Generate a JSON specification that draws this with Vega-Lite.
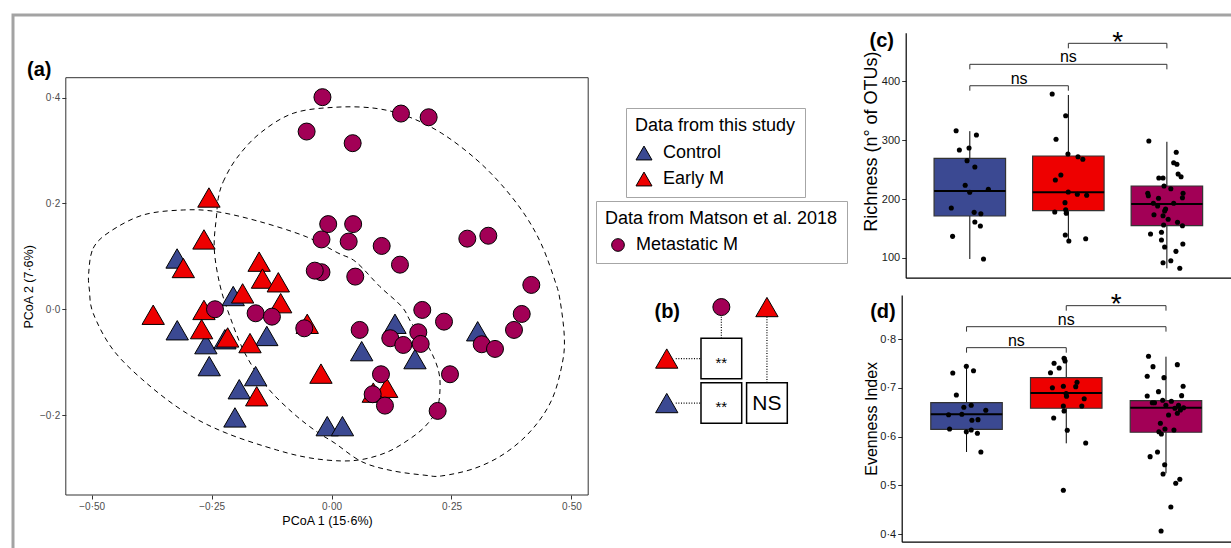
{
"$schema": "https://vega.github.io/schema/vega-lite/v6.json",
"width": 1230,
"height": 545,
"autosize": {"type": "none"},
"padding": {"left": 13, "top": 15, "right": -12, "bottom": -12},
"config": {"font": "Liberation Sans", "view": {"stroke": "#a3a3a3", "strokeWidth": 3}, "axis": {"grid": false}},
"datasets": {
"pcoa": [
{"group":"Control","PCoA1":-0.322,"PCoA2":0.096},{"group":"Control","PCoA1":-0.3217,"PCoA2":-0.0397},{"group":"Control","PCoA1":-0.262,"PCoA2":-0.066},{"group":"Control","PCoA1":-0.2223,"PCoA2":-0.0567},{"group":"Control","PCoA1":-0.135,"PCoA2":-0.0505},{"group":"Control","PCoA1":-0.255,"PCoA2":-0.1075},{"group":"Control","PCoA1":-0.1583,"PCoA2":-0.1264},{"group":"Control","PCoA1":-0.1924,"PCoA2":-0.1512},{"group":"Control","PCoA1":-0.2014,"PCoA2":-0.2045},{"group":"Control","PCoA1":-0.205,"PCoA2":0.025},{"group":"Control","PCoA1":-0.009,"PCoA2":-0.221},{"group":"Control","PCoA1":0.0227,"PCoA2":-0.221},{"group":"Control","PCoA1":0.1322,"PCoA2":-0.0275},{"group":"Control","PCoA1":0.3046,"PCoA2":-0.0416},{"group":"Control","PCoA1":0.0628,"PCoA2":-0.0792},{"group":"Control","PCoA1":0.1739,"PCoA2":-0.0943},
{"group":"Early M","PCoA1":-0.2556,"PCoA2":0.2113},{"group":"Early M","PCoA1":-0.266,"PCoA2":0.132},{"group":"Early M","PCoA1":-0.309,"PCoA2":0.078},{"group":"Early M","PCoA1":-0.151,"PCoA2":0.09},{"group":"Early M","PCoA1":-0.144,"PCoA2":0.058},{"group":"Early M","PCoA1":-0.111,"PCoA2":0.051},{"group":"Early M","PCoA1":-0.3718,"PCoA2":-0.0104},{"group":"Early M","PCoA1":-0.266,"PCoA2":-0.0013},{"group":"Early M","PCoA1":-0.2709,"PCoA2":-0.0376},{"group":"Early M","PCoA1":-0.2166,"PCoA2":-0.0533},{"group":"Early M","PCoA1":-0.17,"PCoA2":-0.064},{"group":"Early M","PCoA1":-0.156,"PCoA2":-0.1645},{"group":"Early M","PCoA1":-0.1854,"PCoA2":0.03},{"group":"Early M","PCoA1":-0.1061,"PCoA2":0.0115},{"group":"Early M","PCoA1":-0.0507,"PCoA2":-0.0275},{"group":"Early M","PCoA1":-0.0221,"PCoA2":-0.1217},{"group":"Early M","PCoA1":0.1149,"PCoA2":-0.1484},{"group":"Early M","PCoA1":0.087,"PCoA2":-0.1576},
{"group":"Metastatic M","PCoA1":-0.019,"PCoA2":0.401},{"group":"Metastatic M","PCoA1":-0.052,"PCoA2":0.336},{"group":"Metastatic M","PCoA1":0.1447,"PCoA2":0.37},{"group":"Metastatic M","PCoA1":0.2024,"PCoA2":0.363},{"group":"Metastatic M","PCoA1":0.044,"PCoA2":0.314},{"group":"Metastatic M","PCoA1":-0.007,"PCoA2":0.161},{"group":"Metastatic M","PCoA1":0.045,"PCoA2":0.161},{"group":"Metastatic M","PCoA1":-0.021,"PCoA2":0.132},{"group":"Metastatic M","PCoA1":0.0357,"PCoA2":0.128},{"group":"Metastatic M","PCoA1":0.1045,"PCoA2":0.1197},{"group":"Metastatic M","PCoA1":0.1426,"PCoA2":0.0843},{"group":"Metastatic M","PCoA1":0.283,"PCoA2":0.1335},{"group":"Metastatic M","PCoA1":0.3268,"PCoA2":0.139},{"group":"Metastatic M","PCoA1":-0.021,"PCoA2":0.07},{"group":"Metastatic M","PCoA1":-0.035,"PCoA2":0.073},{"group":"Metastatic M","PCoA1":0.0494,"PCoA2":0.0617},{"group":"Metastatic M","PCoA1":0.4164,"PCoA2":0.046},{"group":"Metastatic M","PCoA1":-0.243,"PCoA2":0.0},{"group":"Metastatic M","PCoA1":-0.1583,"PCoA2":-0.0076},{"group":"Metastatic M","PCoA1":-0.1243,"PCoA2":-0.014},{"group":"Metastatic M","PCoA1":-0.0569,"PCoA2":-0.036},{"group":"Metastatic M","PCoA1":0.1891,"PCoA2":-0.0013},{"group":"Metastatic M","PCoA1":0.2344,"PCoA2":-0.0234},{"group":"Metastatic M","PCoA1":0.3964,"PCoA2":-0.0089},{"group":"Metastatic M","PCoA1":0.3803,"PCoA2":-0.0391},{"group":"Metastatic M","PCoA1":0.0586,"PCoA2":-0.0391},{"group":"Metastatic M","PCoA1":0.1808,"PCoA2":-0.0435},{"group":"Metastatic M","PCoA1":0.1224,"PCoA2":-0.0548},{"group":"Metastatic M","PCoA1":0.1495,"PCoA2":-0.0675},{"group":"Metastatic M","PCoA1":0.1858,"PCoA2":-0.0656},{"group":"Metastatic M","PCoA1":0.313,"PCoA2":-0.0662},{"group":"Metastatic M","PCoA1":0.3407,"PCoA2":-0.075},{"group":"Metastatic M","PCoA1":0.2469,"PCoA2":-0.1229},{"group":"Metastatic M","PCoA1":0.103,"PCoA2":-0.1229},{"group":"Metastatic M","PCoA1":0.0857,"PCoA2":-0.1607},{"group":"Metastatic M","PCoA1":0.1113,"PCoA2":-0.1822},{"group":"Metastatic M","PCoA1":0.2212,"PCoA2":-0.1922}
],
"ellipses": [
{"set":"This study","i":1,"PCoA1":-0.5063,"PCoA2":0.0681},{"set":"This study","i":2,"PCoA1":-0.4969,"PCoA2":0.1153},{"set":"This study","i":3,"PCoA1":-0.4621,"PCoA2":0.1467},{"set":"This study","i":4,"PCoA1":-0.3926,"PCoA2":0.1783},{"set":"This study","i":5,"PCoA1":-0.3092,"PCoA2":0.1877},{"set":"This study","i":6,"PCoA1":-0.2396,"PCoA2":0.1845},{"set":"This study","i":7,"PCoA1":-0.1493,"PCoA2":0.1656},{"set":"This study","i":8,"PCoA1":-0.053,"PCoA2":0.1372},{"set":"This study","i":9,"PCoA1":0.0133,"PCoA2":0.1064},{"set":"This study","i":10,"PCoA1":0.0509,"PCoA2":0.0894},{"set":"This study","i":11,"PCoA1":0.1009,"PCoA2":0.0427},{"set":"This study","i":12,"PCoA1":0.1464,"PCoA2":0.0049},{"set":"This study","i":13,"PCoA1":0.167,"PCoA2":-0.0265},{"set":"This study","i":14,"PCoA1":0.2016,"PCoA2":-0.0707},{"set":"This study","i":15,"PCoA1":0.2225,"PCoA2":-0.1147},{"set":"This study","i":16,"PCoA1":0.226,"PCoA2":-0.1526},{"set":"This study","i":17,"PCoA1":0.2191,"PCoA2":-0.1904},{"set":"This study","i":18,"PCoA1":0.1947,"PCoA2":-0.2219},{"set":"This study","i":19,"PCoA1":0.1599,"PCoA2":-0.2471},{"set":"This study","i":20,"PCoA1":0.1182,"PCoA2":-0.2692},{"set":"This study","i":21,"PCoA1":0.0696,"PCoA2":-0.283},{"set":"This study","i":22,"PCoA1":0.0211,"PCoA2":-0.2868},{"set":"This study","i":23,"PCoA1":-0.045,"PCoA2":-0.2811},{"set":"This study","i":24,"PCoA1":-0.1145,"PCoA2":-0.266},{"set":"This study","i":25,"PCoA1":-0.2187,"PCoA2":-0.2344},{"set":"This study","i":26,"PCoA1":-0.3021,"PCoA2":-0.1966},{"set":"This study","i":27,"PCoA1":-0.3855,"PCoA2":-0.1399},{"set":"This study","i":28,"PCoA1":-0.4552,"PCoA2":-0.0769},{"set":"This study","i":29,"PCoA1":-0.4969,"PCoA2":-0.0076},{"set":"This study","i":30,"PCoA1":-0.5048,"PCoA2":0.0365},
{"set":"Matson","i":1,"PCoA1":-0.2362,"PCoA2":0.2098},{"set":"Matson","i":2,"PCoA1":-0.2258,"PCoA2":0.2412},{"set":"Matson","i":3,"PCoA1":-0.1979,"PCoA2":0.2854},{"set":"Matson","i":4,"PCoA1":-0.1493,"PCoA2":0.3327},{"set":"Matson","i":5,"PCoA1":-0.0799,"PCoA2":0.3705},{"set":"Matson","i":6,"PCoA1":0.0071,"PCoA2":0.3819},{"set":"Matson","i":7,"PCoA1":0.0905,"PCoA2":0.38},{"set":"Matson","i":8,"PCoA1":0.1599,"PCoA2":0.3641},{"set":"Matson","i":9,"PCoA1":0.2296,"PCoA2":0.3327},{"set":"Matson","i":10,"PCoA1":0.299,"PCoA2":0.2854},{"set":"Matson","i":11,"PCoA1":0.3547,"PCoA2":0.235},{"set":"Matson","i":12,"PCoA1":0.4032,"PCoA2":0.1783},{"set":"Matson","i":13,"PCoA1":0.4381,"PCoA2":0.1215},{"set":"Matson","i":14,"PCoA1":0.4658,"PCoA2":0.0535},{"set":"Matson","i":15,"PCoA1":0.4762,"PCoA2":0.0176},{"set":"Matson","i":16,"PCoA1":0.4852,"PCoA2":-0.0518},{"set":"Matson","i":17,"PCoA1":0.481,"PCoA2":-0.1021},{"set":"Matson","i":18,"PCoA1":0.4589,"PCoA2":-0.1715},{"set":"Matson","i":19,"PCoA1":0.4172,"PCoA2":-0.2282},{"set":"Matson","i":20,"PCoA1":0.3616,"PCoA2":-0.2722},{"set":"Matson","i":21,"PCoA1":0.299,"PCoA2":-0.3006},{"set":"Matson","i":22,"PCoA1":0.2296,"PCoA2":-0.3151},{"set":"Matson","i":23,"PCoA1":0.1947,"PCoA2":-0.3138},{"set":"Matson","i":24,"PCoA1":0.1253,"PCoA2":-0.3051},{"set":"Matson","i":25,"PCoA1":0.0628,"PCoA2":-0.2881},{"set":"Matson","i":26,"PCoA1":0.0071,"PCoA2":-0.2533},{"set":"Matson","i":27,"PCoA1":-0.0311,"PCoA2":-0.2314},{"set":"Matson","i":28,"PCoA1":-0.0799,"PCoA2":-0.1966},{"set":"Matson","i":29,"PCoA1":-0.1353,"PCoA2":-0.1463},{"set":"Matson","i":30,"PCoA1":-0.1806,"PCoA2":-0.0832},{"set":"Matson","i":31,"PCoA1":-0.2118,"PCoA2":-0.014},{"set":"Matson","i":32,"PCoA1":-0.2327,"PCoA2":0.0459},{"set":"Matson","i":33,"PCoA1":-0.2446,"PCoA2":0.1153},{"set":"Matson","i":34,"PCoA1":-0.2396,"PCoA2":0.1783}
],
"bCells": [{"col":"Metastatic M","row":"Early M","sig":"**"},{"col":"Metastatic M","row":"Control","sig":"**"},{"col":"Early M","row":"Control","sig":"NS"}],
"bHeads": [{"col":"Metastatic M","row":"hdr","group":"Metastatic M"},{"col":"Early M","row":"hdr","group":"Early M"},{"col":"hdr","row":"Early M","group":"Early M"},{"col":"hdr","row":"Control","group":"Control"}],
"bLinks": [{"col":"Metastatic M","row":"hdr","col2":"Metastatic M","row2":"Early M"},{"col":"Early M","row":"hdr","col2":"Early M","row2":"Control"},{"col":"hdr","row":"Early M","col2":"Metastatic M","row2":"Early M"},{"col":"hdr","row":"Control","col2":"Metastatic M","row2":"Control"}],
"richBoxes": [{"group":"Control","pos":1,"lower":98.3,"q1":171.2,"median":213.6,"q3":269,"upper":315},{"group":"Early M","pos":2,"lower":130.5,"q1":180.2,"median":211.4,"q3":272.9,"upper":376.3},{"group":"Metastatic M","pos":3,"lower":82.5,"q1":154.8,"median":191.5,"q3":222,"upper":297}],
"richPts": [
{"group":"Control","pos":0.861,"value":315.8},{"group":"Control","pos":1.067,"value":308.5},{"group":"Control","pos":0.894,"value":283},{"group":"Control","pos":0.992,"value":286.4},{"group":"Control","pos":0.972,"value":265},{"group":"Control","pos":1.051,"value":254.2},{"group":"Control","pos":0.953,"value":223.2},{"group":"Control","pos":0.999,"value":211.4},{"group":"Control","pos":1.188,"value":216.4},{"group":"Control","pos":0.812,"value":184.7},{"group":"Control","pos":1.044,"value":177.4},{"group":"Control","pos":1.112,"value":175.1},{"group":"Control","pos":1.051,"value":161},{"group":"Control","pos":1.107,"value":154.2},{"group":"Control","pos":0.825,"value":136.7},{"group":"Control","pos":1.139,"value":98.3},
{"group":"Early M","pos":1.836,"value":378},{"group":"Early M","pos":1.973,"value":341.2},{"group":"Early M","pos":1.875,"value":301.2},{"group":"Early M","pos":1.996,"value":276.3},{"group":"Early M","pos":2.098,"value":271.7},{"group":"Early M","pos":2.147,"value":267.3},{"group":"Early M","pos":1.924,"value":240.7},{"group":"Early M","pos":1.868,"value":232.2},{"group":"Early M","pos":1.999,"value":211.9},{"group":"Early M","pos":2.091,"value":208},{"group":"Early M","pos":2.186,"value":206.3},{"group":"Early M","pos":1.966,"value":193.8},{"group":"Early M","pos":1.973,"value":181.9},{"group":"Early M","pos":1.862,"value":178},{"group":"Early M","pos":1.979,"value":175.8},{"group":"Early M","pos":1.969,"value":139},{"group":"Early M","pos":2.176,"value":132.7},{"group":"Early M","pos":2.005,"value":128.8},
{"group":"Metastatic M","pos":2.817,"value":298.3},{"group":"Metastatic M","pos":3.095,"value":279.2},{"group":"Metastatic M","pos":3.069,"value":261.5},{"group":"Metastatic M","pos":3.102,"value":258.8},{"group":"Metastatic M","pos":3.114,"value":242.4},{"group":"Metastatic M","pos":3.144,"value":237.8},{"group":"Metastatic M","pos":2.918,"value":235.6},{"group":"Metastatic M","pos":2.961,"value":235.6},{"group":"Metastatic M","pos":2.971,"value":222},{"group":"Metastatic M","pos":3.04,"value":217.5},{"group":"Metastatic M","pos":2.806,"value":209.7},{"group":"Metastatic M","pos":3.164,"value":209.7},{"group":"Metastatic M","pos":2.812,"value":205.6},{"group":"Metastatic M","pos":2.915,"value":201.2},{"group":"Metastatic M","pos":3.158,"value":202.2},{"group":"Metastatic M","pos":2.863,"value":192.7},{"group":"Metastatic M","pos":3.069,"value":192.7},{"group":"Metastatic M","pos":2.906,"value":188.1},{"group":"Metastatic M","pos":2.987,"value":183},{"group":"Metastatic M","pos":2.977,"value":179.7},{"group":"Metastatic M","pos":2.961,"value":171.7},{"group":"Metastatic M","pos":2.869,"value":173.4},{"group":"Metastatic M","pos":3.013,"value":165.6},{"group":"Metastatic M","pos":3.108,"value":160.5},{"group":"Metastatic M","pos":2.967,"value":155.9},{"group":"Metastatic M","pos":3.158,"value":154.7},{"group":"Metastatic M","pos":2.834,"value":140.7},{"group":"Metastatic M","pos":2.945,"value":143.6},{"group":"Metastatic M","pos":2.945,"value":130.5},{"group":"Metastatic M","pos":3.162,"value":123.7},{"group":"Metastatic M","pos":2.977,"value":118.6},{"group":"Metastatic M","pos":3.092,"value":111.3},{"group":"Metastatic M","pos":2.961,"value":92},{"group":"Metastatic M","pos":3.04,"value":95.4},{"group":"Metastatic M","pos":3.131,"value":82.5}
],
"richSig": [{"from":1,"to":2,"mid":1.5,"y":392,"tip":383.6,"label":"ns"},{"from":1,"to":3,"mid":2,"y":428.3,"tip":419.8,"label":"ns"},{"from":2,"to":3,"mid":2.5,"y":463.9,"tip":455.4,"label":"*"}],
"evenBoxes": [{"group":"Control","pos":1,"lower":0.5685,"q1":0.6151,"median":0.6459,"q3":0.6698,"upper":0.7466},{"group":"Early M","pos":2,"lower":0.5863,"q1":0.6583,"median":0.6897,"q3":0.7212,"upper":0.763},{"group":"Metastatic M","pos":3,"lower":0.5247,"q1":0.609,"median":0.6595,"q3":0.6739,"upper":0.7643}],
"evenPts": [
{"group":"Control","pos":0.862,"value":0.7308},{"group":"Control","pos":0.998,"value":0.7445},{"group":"Control","pos":1.07,"value":0.7355},{"group":"Control","pos":0.898,"value":0.6856},{"group":"Control","pos":0.973,"value":0.6603},{"group":"Control","pos":1.047,"value":0.6644},{"group":"Control","pos":1.193,"value":0.6541},{"group":"Control","pos":0.82,"value":0.6451},{"group":"Control","pos":0.953,"value":0.6459},{"group":"Control","pos":1.054,"value":0.6336},{"group":"Control","pos":1.115,"value":0.6349},{"group":"Control","pos":0.83,"value":0.6157},{"group":"Control","pos":0.998,"value":0.6102},{"group":"Control","pos":1.047,"value":0.6137},{"group":"Control","pos":1.109,"value":0.6069},{"group":"Control","pos":1.144,"value":0.5685},
{"group":"Early M","pos":1.978,"value":0.761},{"group":"Early M","pos":1.988,"value":0.7555},{"group":"Early M","pos":1.878,"value":0.7507},{"group":"Early M","pos":1.929,"value":0.7411},{"group":"Early M","pos":1.842,"value":0.7314},{"group":"Early M","pos":2.108,"value":0.7117},{"group":"Early M","pos":1.861,"value":0.7006},{"group":"Early M","pos":1.971,"value":0.7035},{"group":"Early M","pos":2.095,"value":0.7027},{"group":"Early M","pos":1.999,"value":0.6883},{"group":"Early M","pos":2.003,"value":0.6829},{"group":"Early M","pos":2.18,"value":0.678},{"group":"Early M","pos":1.971,"value":0.663},{"group":"Early M","pos":2.156,"value":0.663},{"group":"Early M","pos":1.978,"value":0.6527},{"group":"Early M","pos":1.874,"value":0.6383},{"group":"Early M","pos":2.01,"value":0.6131},{"group":"Early M","pos":2.195,"value":0.587},{"group":"Early M","pos":1.971,"value":0.4898},
{"group":"Metastatic M","pos":2.825,"value":0.7651},{"group":"Metastatic M","pos":3.114,"value":0.7479},{"group":"Metastatic M","pos":2.87,"value":0.7438},{"group":"Metastatic M","pos":2.812,"value":0.724},{"group":"Metastatic M","pos":2.98,"value":0.7212},{"group":"Metastatic M","pos":3.172,"value":0.7035},{"group":"Metastatic M","pos":2.925,"value":0.6924},{"group":"Metastatic M","pos":2.812,"value":0.6835},{"group":"Metastatic M","pos":3.157,"value":0.6842},{"group":"Metastatic M","pos":2.863,"value":0.6698},{"group":"Metastatic M","pos":2.885,"value":0.6698},{"group":"Metastatic M","pos":2.967,"value":0.6747},{"group":"Metastatic M","pos":3.054,"value":0.6727},{"group":"Metastatic M","pos":2.999,"value":0.6644},{"group":"Metastatic M","pos":3.126,"value":0.6644},{"group":"Metastatic M","pos":3.09,"value":0.6583},{"group":"Metastatic M","pos":3.177,"value":0.6595},{"group":"Metastatic M","pos":3.145,"value":0.6548},{"group":"Metastatic M","pos":3.114,"value":0.648},{"group":"Metastatic M","pos":3.026,"value":0.6445},{"group":"Metastatic M","pos":2.944,"value":0.6275},{"group":"Metastatic M","pos":2.99,"value":0.6157},{"group":"Metastatic M","pos":3.08,"value":0.6137},{"group":"Metastatic M","pos":2.929,"value":0.6102},{"group":"Metastatic M","pos":2.954,"value":0.6055},{"group":"Metastatic M","pos":2.841,"value":0.5589},{"group":"Metastatic M","pos":2.915,"value":0.5685},{"group":"Metastatic M","pos":2.987,"value":0.5424},{"group":"Metastatic M","pos":2.971,"value":0.5233},{"group":"Metastatic M","pos":3.139,"value":0.5124},{"group":"Metastatic M","pos":3.098,"value":0.5042},{"group":"Metastatic M","pos":3.049,"value":0.4555},{"group":"Metastatic M","pos":2.951,"value":0.4062}
],
"evenSig": [{"from":1,"to":2,"mid":1.5,"y":0.7828,"tip":0.7725,"label":"ns"},{"from":1,"to":3,"mid":2,"y":0.8259,"tip":0.8157,"label":"ns"},{"from":2,"to":3,"mid":2.5,"y":0.8691,"tip":0.8588,"label":"*"}]
},
"resolve": {"scale": {"x": "independent", "y": "independent", "color": "independent", "fill": "independent"}},
"layer": [
{
"layer": [
{"data": {"values": [{"part": "frame"}]},
 "mark": {"type": "rect", "fill": "white", "fillOpacity": 0, "stroke": "#333333", "strokeWidth": 1},
 "encoding": {
  "x": {"datum": -0.554, "type": "quantitative", "scale": {"domain": [-0.554, 0.535], "range": [52.8, 575.2], "nice": false, "zero": false},
   "axis": {"orient": "bottom", "offset": -65, "values": [-0.5, -0.25, 0, 0.25, 0.5], "format": ".2f", "labelExpr": "replace(datum.label, '.', '·')", "title": "PCoA 1 (15·6%)", "domain": false, "tickColor": "#333333", "tickSize": 4, "labelFontSize": 10, "labelColor": "#4d4d4d", "labelPadding": 2, "titleFontSize": 12.5, "titleFontWeight": "normal", "titleColor": "black", "titlePadding": 3, "grid": false}},
  "x2": {"datum": 0.535},
  "y": {"datum": -0.3512, "type": "quantitative", "scale": {"domain": [-0.3512, 0.4378], "range": [480, 62.7], "nice": false, "zero": false},
   "axis": {"orient": "left", "offset": -52.8, "values": [-0.2, 0, 0.2, 0.4], "format": ".1f", "labelExpr": "replace(datum.label, '.', '·')", "title": "PCoA 2 (7·6%)", "domain": false, "tickColor": "#333333", "tickSize": 4, "labelFontSize": 10, "labelColor": "#4d4d4d", "labelPadding": 2, "titleFontSize": 12.5, "titleFontWeight": "normal", "titleColor": "black", "titlePadding": 4, "grid": false}},
  "y2": {"datum": 0.4378}
 }},
{"data": {"name": "ellipses"},
 "mark": {"type": "line", "interpolate": "cardinal-closed", "strokeDash": [5, 4], "strokeWidth": 1, "color": "black"},
 "encoding": {"x": {"field": "PCoA1", "type": "quantitative"}, "y": {"field": "PCoA2", "type": "quantitative"}, "order": {"field": "i", "type": "quantitative"}, "detail": {"field": "set", "type": "nominal"}}},
{"data": {"name": "pcoa"},
 "transform": [{"filter": "datum.group !== 'Metastatic M'"}],
 "mark": {"type": "point", "shape": "triangle-up", "filled": true, "size": 500, "stroke": "black", "strokeWidth": 1, "opacity": 1},
 "encoding": {"x": {"field": "PCoA1", "type": "quantitative"}, "y": {"field": "PCoA2", "type": "quantitative"},
  "color": {"field": "group", "type": "nominal", "scale": {"domain": ["Control", "Early M"], "range": ["#3B4992", "#EE0000"]},
   "legend": {"title": "Data from this study", "orient": "none", "legendX": 613, "legendY": 93, "strokeColor": "#a6a6a6", "fillColor": "white", "padding": 9, "titleFontSize": 18, "titleFontWeight": "normal", "titleColor": "black", "titlePadding": 9, "titleLimit": 400, "labelFontSize": 18, "labelColor": "black", "labelOffset": 10, "labelLimit": 300, "rowPadding": 8, "symbolType": "triangle-up", "symbolSize": 256, "symbolStrokeColor": "black", "symbolStrokeWidth": 1, "symbolOpacity": 1}}}},
{"data": {"name": "pcoa"},
 "transform": [{"filter": "datum.group === 'Metastatic M'"}],
 "mark": {"type": "point", "shape": "circle", "filled": true, "size": 289, "stroke": "black", "strokeWidth": 1, "opacity": 1},
 "encoding": {"x": {"field": "PCoA1", "type": "quantitative"}, "y": {"field": "PCoA2", "type": "quantitative"},
  "fill": {"field": "group", "type": "nominal", "scale": {"domain": ["Metastatic M"], "range": ["#A20056"]},
   "legend": {"title": "Data from Matson et al. 2018", "orient": "none", "legendX": 583, "legendY": 186, "strokeColor": "#a6a6a6", "fillColor": "white", "padding": 9, "titleFontSize": 18, "titleFontWeight": "normal", "titleColor": "black", "titlePadding": 8, "titleLimit": 400, "labelFontSize": 18, "labelColor": "black", "labelOffset": 9, "labelLimit": 300, "symbolType": "circle", "symbolSize": 161, "symbolOffset": 4, "symbolStrokeColor": "black", "symbolStrokeWidth": 1, "symbolOpacity": 1}}}},
{"data": {"values": [{"label": "(a)"}]},
 "mark": {"type": "text", "fontSize": 20, "fontWeight": "bold", "align": "left", "baseline": "alphabetic", "dx": -38.8, "dy": -1.7, "color": "black"},
 "encoding": {"x": {"datum": -0.554, "type": "quantitative"}, "y": {"datum": 0.4378, "type": "quantitative"}, "text": {"field": "label"}}}
]
},
{
"layer": [
{"data": {"name": "bLinks"},
 "mark": {"type": "rule", "color": "black", "strokeWidth": 1.2, "strokeDash": [1, 1.6]},
 "encoding": {
  "x": {"field": "col", "type": "nominal", "scale": {"domain": ["hdr", "Metastatic M", "Early M"], "range": [642.4, 774.3], "paddingInner": 0.107, "paddingOuter": 0}, "axis": null},
  "x2": {"field": "col2"},
  "y": {"field": "row", "type": "nominal", "scale": {"domain": ["hdr", "Early M", "Control"], "range": [278.8, 408.3], "paddingInner": 0.09, "paddingOuter": 0}, "axis": null},
  "y2": {"field": "row2"}}},
{"data": {"name": "bCells"},
 "mark": {"type": "rect", "fill": "white", "stroke": "black", "strokeWidth": 1.5},
 "encoding": {"x": {"field": "col", "type": "nominal"}, "y": {"field": "row", "type": "nominal"}}},
{"data": {"name": "bCells"},
 "transform": [{"filter": "datum.sig !== 'NS'"}],
 "mark": {"type": "text", "fontSize": 15, "baseline": "middle", "dy": 4, "color": "black"},
 "encoding": {"x": {"field": "col", "type": "nominal"}, "y": {"field": "row", "type": "nominal"}, "text": {"field": "sig"}}},
{"data": {"name": "bCells"},
 "transform": [{"filter": "datum.sig === 'NS'"}],
 "mark": {"type": "text", "fontSize": 21, "baseline": "middle", "dy": 1, "color": "black"},
 "encoding": {"x": {"field": "col", "type": "nominal"}, "y": {"field": "row", "type": "nominal"}, "text": {"field": "sig"}}},
{"data": {"name": "bHeads"},
 "transform": [{"filter": "datum.row === 'hdr' && datum.group === 'Metastatic M'"}],
 "mark": {"type": "point", "shape": "circle", "filled": true, "size": 289, "stroke": "black", "strokeWidth": 1, "opacity": 1, "yOffset": -7},
 "encoding": {"x": {"field": "col", "type": "nominal"}, "y": {"field": "row", "type": "nominal"},
  "color": {"field": "group", "type": "nominal", "scale": {"domain": ["Control", "Early M", "Metastatic M"], "range": ["#3B4992", "#EE0000", "#A20056"]}, "legend": null}}},
{"data": {"name": "bHeads"},
 "transform": [{"filter": "datum.row === 'hdr' && datum.group !== 'Metastatic M'"}],
 "mark": {"type": "point", "shape": "triangle-up", "filled": true, "size": 497, "stroke": "black", "strokeWidth": 1, "opacity": 1, "yOffset": -7},
 "encoding": {"x": {"field": "col", "type": "nominal"}, "y": {"field": "row", "type": "nominal"},
  "color": {"field": "group", "type": "nominal", "legend": null}}},
{"data": {"name": "bHeads"},
 "transform": [{"filter": "datum.col === 'hdr'"}],
 "mark": {"type": "point", "shape": "triangle-up", "filled": true, "size": 497, "stroke": "black", "strokeWidth": 1, "opacity": 1, "xOffset": -9},
 "encoding": {"x": {"field": "col", "type": "nominal"}, "y": {"field": "row", "type": "nominal"},
  "color": {"field": "group", "type": "nominal", "legend": null}}},
{"data": {"values": [{"col": "hdr", "row": "hdr", "label": "(b)"}]},
 "mark": {"type": "text", "fontSize": 20, "fontWeight": "bold", "baseline": "middle", "dx": -8.5, "dy": -2.5, "color": "black"},
 "encoding": {"x": {"field": "col", "type": "nominal"}, "y": {"field": "row", "type": "nominal"}, "text": {"field": "label"}}}
]
},
{
"layer": [
{"data": {"name": "richBoxes"},
 "mark": {"type": "rule", "color": "black", "strokeWidth": 1},
 "encoding": {
  "x": {"field": "pos", "type": "quantitative", "scale": {"domain": [0.4, 3.6], "range": [892.7, 1218], "nice": false, "zero": false},
   "axis": {"orient": "bottom", "offset": -282.3, "ticks": false, "labels": false, "title": null, "domainColor": "black", "domainWidth": 1.2, "grid": false}},
  "y": {"field": "lower", "type": "quantitative", "scale": {"domain": [66.6, 481.9], "range": [262.7, 17.7], "nice": false, "zero": false},
   "axis": {"orient": "left", "offset": -892.7, "values": [100, 200, 300, 400], "title": "Richness (n° of OTUs)", "domainColor": "black", "domainWidth": 1.2, "tickColor": "#333333", "tickSize": 4, "labelFontSize": 11, "labelColor": "#1a1a1a", "labelPadding": 2, "titleFontSize": 18, "titleFontWeight": "normal", "titleColor": "black", "titleX": -34, "titleY": 126, "titleBaseline": "middle", "titleAngle": 270, "grid": false}},
  "y2": {"field": "upper"}}},
{"data": {"name": "richBoxes"},
 "mark": {"type": "bar", "width": 71.5, "stroke": "#333333", "strokeWidth": 1.2, "opacity": 1},
 "encoding": {"x": {"field": "pos", "type": "quantitative"}, "y": {"field": "q1", "type": "quantitative"}, "y2": {"field": "q3"},
  "color": {"field": "group", "type": "nominal", "scale": {"domain": ["Control", "Early M", "Metastatic M"], "range": ["#3B4992", "#EE0000", "#A20056"]}, "legend": null}}},
{"data": {"name": "richBoxes"},
 "mark": {"type": "tick", "orient": "horizontal", "size": 71.5, "thickness": 2, "color": "black", "opacity": 1},
 "encoding": {"x": {"field": "pos", "type": "quantitative"}, "y": {"field": "median", "type": "quantitative"}}},
{"data": {"name": "richPts"},
 "mark": {"type": "point", "shape": "circle", "filled": true, "size": 26, "color": "black", "opacity": 1},
 "encoding": {"x": {"field": "pos", "type": "quantitative"}, "y": {"field": "value", "type": "quantitative"}}},
{"data": {"name": "richSig"},
 "mark": {"type": "rule", "color": "#333333", "strokeWidth": 1},
 "encoding": {"x": {"field": "from", "type": "quantitative"}, "x2": {"field": "to"}, "y": {"field": "y", "type": "quantitative"}}},
{"data": {"name": "richSig"},
 "mark": {"type": "rule", "color": "#333333", "strokeWidth": 1},
 "encoding": {"x": {"field": "from", "type": "quantitative"}, "y": {"field": "tip", "type": "quantitative"}, "y2": {"field": "y"}}},
{"data": {"name": "richSig"},
 "mark": {"type": "rule", "color": "#333333", "strokeWidth": 1},
 "encoding": {"x": {"field": "to", "type": "quantitative"}, "y": {"field": "tip", "type": "quantitative"}, "y2": {"field": "y"}}},
{"data": {"name": "richSig"},
 "transform": [{"filter": "datum.label === 'ns'"}],
 "mark": {"type": "text", "fontSize": 16, "baseline": "alphabetic", "dy": -2, "color": "black"},
 "encoding": {"x": {"field": "mid", "type": "quantitative"}, "y": {"field": "y", "type": "quantitative"}, "text": {"field": "label"}}},
{"data": {"name": "richSig"},
 "transform": [{"filter": "datum.label === '*'"}],
 "mark": {"type": "text", "fontSize": 28, "baseline": "alphabetic", "dy": 8, "color": "black"},
 "encoding": {"x": {"field": "mid", "type": "quantitative"}, "y": {"field": "y", "type": "quantitative"}, "text": {"field": "label"}}},
{"data": {"values": [{"label": "(c)"}]},
 "mark": {"type": "text", "fontSize": 20, "fontWeight": "bold", "align": "right", "baseline": "middle", "dx": -16.7, "dy": 8, "color": "black"},
 "encoding": {"x": {"datum": 0.4, "type": "quantitative"}, "y": {"datum": 481.9, "type": "quantitative"}, "text": {"field": "label"}}}
]
},
{
"layer": [
{"data": {"name": "evenBoxes"},
 "mark": {"type": "rule", "color": "black", "strokeWidth": 1},
 "encoding": {
  "x": {"field": "pos", "type": "quantitative", "scale": {"domain": [0.4, 3.6], "range": [888.7, 1217.8], "nice": false, "zero": false},
   "axis": {"orient": "bottom", "offset": -18.3, "ticks": false, "labels": false, "title": null, "domainColor": "black", "domainWidth": 1.2, "grid": false}},
  "y": {"field": "lower", "type": "quantitative", "scale": {"domain": [0.3842, 0.891], "range": [526.7, 280], "nice": false, "zero": false},
   "axis": {"orient": "left", "offset": -888.7, "values": [0.4, 0.5, 0.6, 0.7, 0.8], "format": ".1f", "labelExpr": "replace(datum.label, '.', '·')", "title": "Evenness Index", "domainColor": "black", "domainWidth": 1.2, "tickColor": "#333333", "tickSize": 4, "labelFontSize": 11, "labelColor": "#1a1a1a", "labelPadding": 2, "titleFontSize": 16, "titleFontWeight": "normal", "titleColor": "black", "titlePadding": 0, "grid": false}},
  "y2": {"field": "upper"}}},
{"data": {"name": "evenBoxes"},
 "mark": {"type": "bar", "width": 71.5, "stroke": "#333333", "strokeWidth": 1.2, "opacity": 1},
 "encoding": {"x": {"field": "pos", "type": "quantitative"}, "y": {"field": "q1", "type": "quantitative"}, "y2": {"field": "q3"},
  "color": {"field": "group", "type": "nominal", "scale": {"domain": ["Control", "Early M", "Metastatic M"], "range": ["#3B4992", "#EE0000", "#A20056"]}, "legend": null}}},
{"data": {"name": "evenBoxes"},
 "mark": {"type": "tick", "orient": "horizontal", "size": 71.5, "thickness": 2, "color": "black", "opacity": 1},
 "encoding": {"x": {"field": "pos", "type": "quantitative"}, "y": {"field": "median", "type": "quantitative"}}},
{"data": {"name": "evenPts"},
 "mark": {"type": "point", "shape": "circle", "filled": true, "size": 26, "color": "black", "opacity": 1},
 "encoding": {"x": {"field": "pos", "type": "quantitative"}, "y": {"field": "value", "type": "quantitative"}}},
{"data": {"name": "evenSig"},
 "mark": {"type": "rule", "color": "#333333", "strokeWidth": 1},
 "encoding": {"x": {"field": "from", "type": "quantitative"}, "x2": {"field": "to"}, "y": {"field": "y", "type": "quantitative"}}},
{"data": {"name": "evenSig"},
 "mark": {"type": "rule", "color": "#333333", "strokeWidth": 1},
 "encoding": {"x": {"field": "from", "type": "quantitative"}, "y": {"field": "tip", "type": "quantitative"}, "y2": {"field": "y"}}},
{"data": {"name": "evenSig"},
 "mark": {"type": "rule", "color": "#333333", "strokeWidth": 1},
 "encoding": {"x": {"field": "to", "type": "quantitative"}, "y": {"field": "tip", "type": "quantitative"}, "y2": {"field": "y"}}},
{"data": {"name": "evenSig"},
 "transform": [{"filter": "datum.label === 'ns'"}],
 "mark": {"type": "text", "fontSize": 16, "baseline": "alphabetic", "dy": -2, "color": "black"},
 "encoding": {"x": {"field": "mid", "type": "quantitative"}, "y": {"field": "y", "type": "quantitative"}, "text": {"field": "label"}}},
{"data": {"name": "evenSig"},
 "transform": [{"filter": "datum.label === '*'"}],
 "mark": {"type": "text", "fontSize": 28, "baseline": "alphabetic", "dy": 7, "color": "black"},
 "encoding": {"x": {"field": "mid", "type": "quantitative"}, "y": {"field": "y", "type": "quantitative"}, "text": {"field": "label"}}},
{"data": {"values": [{"label": "(d)"}]},
 "mark": {"type": "text", "fontSize": 20, "fontWeight": "bold", "align": "right", "baseline": "middle", "dx": -11, "dy": 16.7, "color": "black"},
 "encoding": {"x": {"datum": 0.4, "type": "quantitative"}, "y": {"datum": 0.891, "type": "quantitative"}, "text": {"field": "label"}}}
]
}
]
}
